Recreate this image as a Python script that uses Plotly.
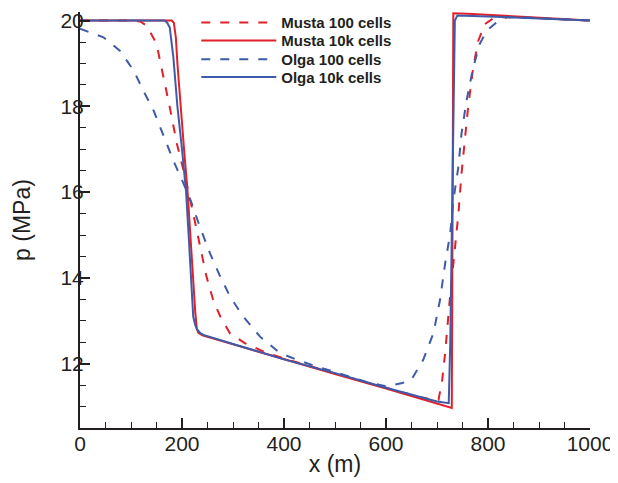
import plotly.graph_objects as go

# Musta 100 cells (dashed red)
musta100_x = [0, 100, 118, 131, 150, 163, 176, 190, 206, 222, 235, 248, 261, 275, 294, 323, 366, 400, 500, 600, 660, 690, 703, 710, 716, 725, 735, 742, 748, 755, 761, 771, 781, 794, 814, 850, 900, 1000]
musta100_y = [20.0, 20.0, 19.98, 19.88, 19.46, 18.76, 17.98, 17.13, 16.36, 15.5, 14.73, 14.03, 13.49, 13.1, 12.71, 12.48, 12.25, 12.12, 11.77, 11.43, 11.24, 11.16, 11.16, 11.6, 12.25, 13.49, 14.65, 15.5, 16.43, 17.2, 17.98, 18.91, 19.53, 19.92, 20.08, 20.08, 20.05, 20.0]

# Musta 10k cells (solid red)
musta10k_x = [0, 180, 184, 188, 191, 197, 204, 211, 216, 221, 226, 229, 232, 240, 300, 400, 500, 600, 700, 729, 730, 731, 732, 760, 860, 1000]
musta10k_y = [20.0, 20.0, 19.95, 19.6, 19.0, 18.0, 17.0, 16.0, 15.0, 14.0, 13.2, 12.82, 12.72, 12.66, 12.45, 12.1, 11.76, 11.42, 11.06, 10.97, 14.0, 18.0, 20.17, 20.16, 20.1, 20.0]

# Olga 100 cells (dashed blue)
olga100_x = [0, 46, 78, 105, 124, 144, 157, 170, 183, 203, 219, 235, 255, 275, 294, 320, 353, 392, 425, 460, 500, 560, 600, 614, 632, 650, 673, 693, 706, 716, 726, 732, 742, 748, 758, 771, 784, 798, 817, 837, 900, 1000]
olga100_y = [19.81, 19.61, 19.3, 18.84, 18.37, 17.91, 17.52, 17.13, 16.74, 16.2, 15.74, 15.19, 14.57, 14.03, 13.57, 13.1, 12.63, 12.25, 12.09, 11.95, 11.8, 11.58, 11.47, 11.5, 11.55, 11.63, 12.09, 12.71, 13.49, 14.34, 15.04, 15.81, 16.59, 17.36, 18.14, 18.91, 19.46, 19.77, 19.96, 20.08, 20.06, 20.0]

# Olga 10k cells (solid blue)
olga10k_x = [0, 166, 171, 176, 183, 191, 200, 208, 213, 218, 222, 226, 230, 236, 242, 300, 400, 500, 600, 700, 718, 723, 726, 729, 732, 735, 740, 800, 900, 1000]
olga10k_y = [20.0, 20.0, 19.95, 19.84, 19.15, 18.0, 17.0, 16.0, 15.0, 14.0, 13.1, 12.9, 12.79, 12.71, 12.67, 12.46, 12.1, 11.78, 11.44, 11.12, 11.08, 11.08, 12.5, 15.4, 18.5, 20.0, 20.12, 20.1, 20.05, 20.0]

series_names = ["Musta 100 cells", "Musta 10k cells", "Olga 100 cells", "Olga 10k cells"]

RED = "#e0202a"
BLUE = "#3f5aa8"
INK = "#231f20"
FONT = "Liberation Sans, Arial, sans-serif"

fig = go.Figure()
fig.add_trace(go.Scatter(x=musta100_x, y=musta100_y, mode="lines", name=series_names[0], legend="legend",
                         line=dict(color=RED, width=2, dash="9px,10px")))
fig.add_trace(go.Scatter(x=musta10k_x, y=musta10k_y, mode="lines", name=series_names[1], legend="legend2",
                         line=dict(color=RED, width=2)))
fig.add_trace(go.Scatter(x=olga100_x, y=olga100_y, mode="lines", name=series_names[2], legend="legend3",
                         line=dict(color=BLUE, width=2, dash="9px,10px")))
fig.add_trace(go.Scatter(x=olga10k_x, y=olga10k_y, mode="lines", name=series_names[3], legend="legend4",
                         line=dict(color=BLUE, width=2)))

axis_common = dict(
    showgrid=False, zeroline=False, showline=True, linecolor=INK, linewidth=2,
    ticks="inside", ticklen=10, tickwidth=1.5, tickcolor=INK,
    tickfont=dict(family=FONT, size=21, color=INK),
    minor=dict(ticks="inside", ticklen=6, tickwidth=1, tickcolor=INK, showgrid=False),
    mirror=False, automargin=False,
)

def leg(y):
    return dict(x=0.228, y=y, xanchor="left", yanchor="middle", bgcolor="rgba(0,0,0,0)",
                font=dict(family=FONT, size=15, color=INK, weight="bold"),
                itemwidth=75, borderwidth=0)

# page body adds an 8px offset at top-left, so the figure is 8px smaller on each axis
fig.update_layout(
    width=610, height=475,
    margin=dict(l=72, r=28, t=4, b=55, autoexpand=False),
    paper_bgcolor="white", plot_bgcolor="white",
    font=dict(family=FONT, color=INK),
    xaxis=dict(range=[0, 1000], tickvals=[0, 200, 400, 600, 800, 1000],
               minor_dtick=50, ticklabelstandoff=-4,
               title=dict(text="x (m)", font=dict(size=23, family=FONT), standoff=2),
               **axis_common),
    yaxis=dict(range=[10.5, 20.2], tickvals=[12, 14, 16, 18, 20],
               minor_dtick=0.5, minor_tick0=0, ticklabelstandoff=-10,
               title=dict(text="p (MPa)", font=dict(size=23, family=FONT), standoff=23),
               **axis_common),
    legend=leg(0.974), legend2=leg(0.931), legend3=leg(0.886), legend4=leg(0.843),
    showlegend=True,
)

fig.write_html("out.html")
